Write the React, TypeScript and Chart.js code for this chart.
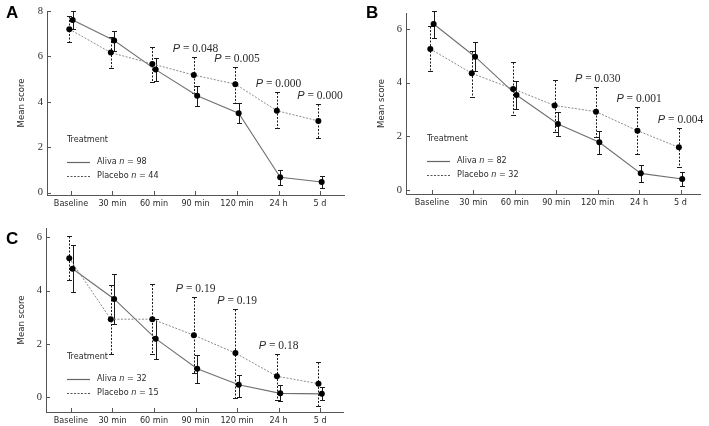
import React, { useEffect, useRef } from "react";
import { Chart, registerables } from "chart.js";

Chart.register(...registerables);

// ---------- data ----------
const CATEGORIES = ["Baseline", "30 min", "60 min", "90 min", "120 min", "24 h", "5 d"];

const Y_TICKS_A = [0, 2, 4, 6, 8];
const Y_TICKS_B = [0, 2, 4, 6];
const Y_TICKS_C = [0, 2, 4, 6];

const A_ALIVA_MEAN = [7.6, 6.7, 5.42, 4.27, 3.5, 0.68, 0.47];
const A_ALIVA_HIGH = [8.0, 7.12, 5.92, 4.7, 3.94, 1.0, 0.74];
const A_ALIVA_LOW = [7.22, 6.26, 4.94, 3.82, 3.06, 0.36, 0.22];
const A_PLACEBO_MEAN = [7.2, 6.17, 5.67, 5.18, 4.78, 3.61, 3.16];
const A_PLACEBO_HIGH = [7.78, 6.86, 6.43, 5.96, 5.55, 4.42, 3.89];
const A_PLACEBO_LOW = [6.62, 5.48, 4.89, 4.4, 3.96, 2.84, 2.42];
const A_P_VALUES = [null, null, null, "0.048", "0.005", "0.000", "0.000"];
const A_N = [98, 44];

const B_ALIVA_MEAN = [6.19, 4.97, 3.54, 2.46, 1.78, 0.62, 0.41];
const B_ALIVA_HIGH = [6.69, 5.53, 4.07, 2.9, 2.21, 0.93, 0.66];
const B_ALIVA_LOW = [5.66, 4.44, 3.02, 2.01, 1.34, 0.31, 0.15];
const B_PLACEBO_MEAN = [5.26, 4.35, 3.77, 3.15, 2.92, 2.21, 1.59];
const B_PLACEBO_HIGH = [6.1, 5.2, 4.76, 4.1, 3.83, 3.09, 2.32];
const B_PLACEBO_LOW = [4.45, 3.48, 2.79, 2.18, 1.99, 1.34, 0.85];
const B_P_VALUES = [null, null, null, null, "0.030", "0.001", "0.004"];
const B_N = [82, 32];

const C_ALIVA_MEAN = [4.82, 3.69, 2.2, 1.07, 0.47, 0.15, 0.13];
const C_ALIVA_HIGH = [5.72, 4.63, 2.95, 1.6, 0.85, 0.48, 0.4];
const C_ALIVA_LOW = [3.96, 2.74, 1.45, 0.54, 0.0, -0.12, -0.1];
const C_PLACEBO_MEAN = [5.22, 2.93, 2.93, 2.33, 1.66, 0.79, 0.51];
const C_PLACEBO_HIGH = [6.04, 4.22, 4.24, 3.75, 3.32, 1.64, 1.32];
const C_PLACEBO_LOW = [4.4, 1.64, 1.61, 0.92, -0.02, -0.1, -0.31];
const C_P_VALUES = [null, null, null, "0.19", "0.19", "0.18", null];
const C_N = [32, 15];

// ---------- style ----------
const SANS = '"DejaVu Sans Condensed", "Liberation Sans", sans-serif';
const SERIF = '"Liberation Serif", "DejaVu Serif", serif';
const TEXT = "#2a2a2a";
const AXIS = "#555";
const DODGE = 0.04;
const X_AXIS_H = 14;

type Series = { mean: number[]; high: number[]; low: number[] };
type Panel = {
  letter: string;
  left: number;
  top: number;
  width: number;
  height: number;
  area: { left: number; right: number; top: number; bottom: number };
  yMin: number;
  yMax: number;
  yTicks: number[];
  xMin: number;
  xMax: number;
  aliva: Series;
  placebo: Series;
  n: number[];
  p: (string | null)[];
  legend: { x: number; y: number };
  letterPos: { x: number; y: number };
};

const PANELS: Panel[] = [
  {
    letter: "A",
    left: 0,
    top: 0,
    width: 360,
    height: 210,
    area: { left: 47, right: 344, top: 11, bottom: 195 },
    yMin: -0.1,
    yMax: 8,
    yTicks: Y_TICKS_A,
    xMin: -0.578,
    xMax: 6.578,
    aliva: { mean: A_ALIVA_MEAN, high: A_ALIVA_HIGH, low: A_ALIVA_LOW },
    placebo: { mean: A_PLACEBO_MEAN, high: A_PLACEBO_HIGH, low: A_PLACEBO_LOW },
    n: A_N,
    p: A_P_VALUES,
    legend: { x: 67, y: 140 },
    letterPos: { x: 6, y: 18 },
  },
  {
    letter: "B",
    left: 360,
    top: 0,
    width: 349,
    height: 210,
    area: { left: 46, right: 340, top: 13, bottom: 194 },
    yMin: -0.15,
    yMax: 6.6,
    yTicks: Y_TICKS_B,
    xMin: -0.627,
    xMax: 6.47,
    aliva: { mean: B_ALIVA_MEAN, high: B_ALIVA_HIGH, low: B_ALIVA_LOW },
    placebo: { mean: B_PLACEBO_MEAN, high: B_PLACEBO_HIGH, low: B_PLACEBO_LOW },
    n: B_N,
    p: B_P_VALUES,
    legend: { x: 67, y: 139 },
    letterPos: { x: 6, y: 18 },
  },
  {
    letter: "C",
    left: 0,
    top: 210,
    width: 360,
    height: 216,
    area: { left: 46, right: 343, top: 18, bottom: 202 },
    yMin: -0.55,
    yMax: 6.35,
    yTicks: Y_TICKS_C,
    xMin: -0.6,
    xMax: 6.55,
    aliva: { mean: C_ALIVA_MEAN, high: C_ALIVA_HIGH, low: C_ALIVA_LOW },
    placebo: { mean: C_PLACEBO_MEAN, high: C_PLACEBO_HIGH, low: C_PLACEBO_LOW },
    n: C_N,
    p: C_P_VALUES,
    legend: { x: 67, y: 147 },
    letterPos: { x: 6, y: 34 },
  },
];

function drawSegments(ctx: CanvasRenderingContext2D, segs: { t: string; f: string }[], x: number, y: number, align: "left" | "center") {
  let total = 0;
  const widths = segs.map((s) => {
    ctx.font = s.f;
    const w = ctx.measureText(s.t).width;
    total += w;
    return w;
  });
  let cx = align === "center" ? x - total / 2 : x;
  ctx.textAlign = "left";
  segs.forEach((s, i) => {
    ctx.font = s.f;
    ctx.fillText(s.t, cx, y);
    cx += widths[i];
  });
}

function panelPlugin(p: Panel) {
  return {
    id: "panelDecor" + p.letter,
    beforeDatasetsDraw(chart: any) {
      const { ctx } = chart;
      const x = chart.scales.x;
      const y = chart.scales.y;
      ctx.save();
      const drawBars = (s: Series, dx: number, dash: number[]) => {
        ctx.strokeStyle = "#1a1a1a";
        ctx.lineWidth = 1;
        s.mean.forEach((_v, i) => {
          const px = Math.round(x.getPixelForValue(i + dx)) + 0.5;
          const yh = Math.round(y.getPixelForValue(s.high[i])) + 0.5;
          const yl = Math.round(y.getPixelForValue(s.low[i])) + 0.5;
          ctx.setLineDash(dash);
          ctx.beginPath();
          ctx.moveTo(px, yh);
          ctx.lineTo(px, yl);
          ctx.stroke();
          ctx.setLineDash([]);
          ctx.beginPath();
          ctx.moveTo(px - 2.5, yh);
          ctx.lineTo(px + 2.5, yh);
          ctx.moveTo(px - 2.5, yl);
          ctx.lineTo(px + 2.5, yl);
          ctx.stroke();
        });
      };
      drawBars(p.placebo, -DODGE, [2, 1.5]);
      drawBars(p.aliva, DODGE, []);
      ctx.restore();
    },
    afterDraw(chart: any) {
      const { ctx, chartArea } = chart;
      const x = chart.scales.x;
      const y = chart.scales.y;
      ctx.save();
      // inward tick marks
      ctx.strokeStyle = AXIS;
      ctx.lineWidth = 1;
      ctx.beginPath();
      CATEGORIES.forEach((_c, i) => {
        const px = Math.round(x.getPixelForValue(i)) + 0.5;
        ctx.moveTo(px, chartArea.bottom);
        ctx.lineTo(px, chartArea.bottom - 4);
      });
      p.yTicks.forEach((v) => {
        const py = Math.round(y.getPixelForValue(v)) + 0.5;
        ctx.moveTo(chartArea.left, py);
        ctx.lineTo(chartArea.left + 4, py);
      });
      ctx.stroke();

      // y title
      ctx.fillStyle = TEXT;
      ctx.save();
      ctx.translate(22, (chartArea.top + chartArea.bottom) / 2);
      ctx.rotate(-Math.PI / 2);
      ctx.font = `9.5px ${SANS}`;
      ctx.textAlign = "center";
      ctx.textBaseline = "middle";
      ctx.fillText("Mean score", 0, 0);
      ctx.restore();

      // panel letter
      ctx.fillStyle = "#000";
      ctx.font = `bold 17px "Liberation Sans", Arial, sans-serif`;
      ctx.textAlign = "left";
      ctx.textBaseline = "alphabetic";
      ctx.fillText(p.letter, p.letterPos.x, p.letterPos.y);

      // legend
      const lx = p.legend.x;
      const ly = p.legend.y;
      ctx.fillStyle = TEXT;
      ctx.textBaseline = "middle";
      ctx.font = `9px ${SANS}`;
      ctx.fillText("Treatment", lx, ly);
      ctx.strokeStyle = "#666";
      ctx.lineWidth = 1.2;
      ctx.setLineDash([]);
      ctx.beginPath();
      ctx.moveTo(lx, ly + 22.5);
      ctx.lineTo(lx + 23, ly + 22.5);
      ctx.stroke();
      ctx.strokeStyle = "#555";
      ctx.lineWidth = 1;
      ctx.setLineDash([2, 1.5]);
      ctx.beginPath();
      ctx.moveTo(lx, ly + 36.5);
      ctx.lineTo(lx + 23, ly + 36.5);
      ctx.stroke();
      ctx.setLineDash([]);
      const nf = `9px ${SANS}`;
      const itf = `italic 9px ${SANS}`;
      drawSegments(ctx, [{ t: "Aliva ", f: nf }, { t: "n", f: itf }, { t: ` = ${p.n[0]}`, f: nf }], lx + 30, ly + 22, "left");
      drawSegments(ctx, [{ t: "Placebo ", f: nf }, { t: "n", f: itf }, { t: ` = ${p.n[1]}`, f: nf }], lx + 30, ly + 36, "left");

      // P labels
      ctx.fillStyle = TEXT;
      ctx.textBaseline = "middle";
      p.p.forEach((val, i) => {
        if (!val) return;
        const px = x.getPixelForValue(i);
        const py = y.getPixelForValue(p.placebo.high[i]) - 8;
        drawSegments(
          ctx,
          [
            { t: "P", f: `italic 11px "Liberation Sans", sans-serif` },
            { t: ` = ${val}`, f: `11.5px ${SERIF}` },
          ],
          px,
          py,
          "center"
        );
      });
      ctx.restore();
    },
  };
}

function buildConfig(p: Panel): any {
  const toPts = (s: Series, dx: number) => s.mean.map((v, i) => ({ x: i + dx, y: v }));
  return {
    type: "line",
    data: {
      datasets: [
        {
          label: "Placebo",
          data: toPts(p.placebo, -DODGE),
          borderColor: "#8a8a8a",
          borderWidth: 1,
          borderDash: [2, 1.5],
          pointRadius: 3,
          pointBackgroundColor: "#000",
          pointBorderColor: "#000",
          pointBorderWidth: 0,
          pointHoverRadius: 3,
          tension: 0,
          fill: false,
        },
        {
          label: "Aliva",
          data: toPts(p.aliva, DODGE),
          borderColor: "#707070",
          borderWidth: 1.1,
          pointRadius: 3,
          pointBackgroundColor: "#000",
          pointBorderColor: "#000",
          pointBorderWidth: 0,
          pointHoverRadius: 3,
          tension: 0,
          fill: false,
        },
      ],
    },
    options: {
      responsive: false,
      maintainAspectRatio: false,
      animation: false,
      devicePixelRatio: 1,
      events: [],
      layout: {
        padding: {
          left: 0,
          top: p.area.top,
          right: p.width - p.area.right,
          bottom: p.height - p.area.bottom - X_AXIS_H,
        },
      },
      plugins: { legend: { display: false }, tooltip: { enabled: false } },
      scales: {
        x: {
          type: "linear",
          min: p.xMin,
          max: p.xMax,
          afterFit: (s: any) => {
            s.height = X_AXIS_H;
          },
          afterBuildTicks: (s: any) => {
            s.ticks = CATEGORIES.map((_c, i) => ({ value: i }));
          },
          ticks: {
            autoSkip: false,
            maxRotation: 0,
            padding: 3,
            color: TEXT,
            font: { family: SANS, size: 9 },
            callback: (v: any) => CATEGORIES[Math.round(v)] ?? "",
          },
          grid: { display: false, drawTicks: false, tickLength: 0 },
          border: { display: true, color: AXIS, width: 1 },
        },
        y: {
          type: "linear",
          min: p.yMin,
          max: p.yMax,
          afterFit: (s: any) => {
            s.width = p.area.left;
          },
          afterBuildTicks: (s: any) => {
            s.ticks = p.yTicks.map((v) => ({ value: v }));
          },
          ticks: {
            padding: 4,
            color: TEXT,
            font: { family: SERIF, size: 10.5 },
            callback: (v: any) => String(v),
          },
          grid: { display: false, drawTicks: false, tickLength: 0 },
          border: { display: true, color: AXIS, width: 1 },
        },
      },
    },
    plugins: [panelPlugin(p)],
  };
}

function PanelChart({ panel }: { panel: Panel }) {
  const ref = useRef<HTMLCanvasElement>(null);
  useEffect(() => {
    if (!ref.current) return;
    const chart = new Chart(ref.current, buildConfig(panel));
    return () => chart.destroy();
  }, [panel]);
  return (
    <canvas
      ref={ref}
      width={panel.width}
      height={panel.height}
      style={{ position: "absolute", left: panel.left, top: panel.top, width: panel.width, height: panel.height }}
    />
  );
}

export default function App() {
  return (
    <div style={{ position: "absolute", left: 0, top: 0, width: 709, height: 426, background: "#fff", overflow: "hidden" }}>
      {PANELS.map((p) => (
        <PanelChart key={p.letter} panel={p} />
      ))}
    </div>
  );
}
